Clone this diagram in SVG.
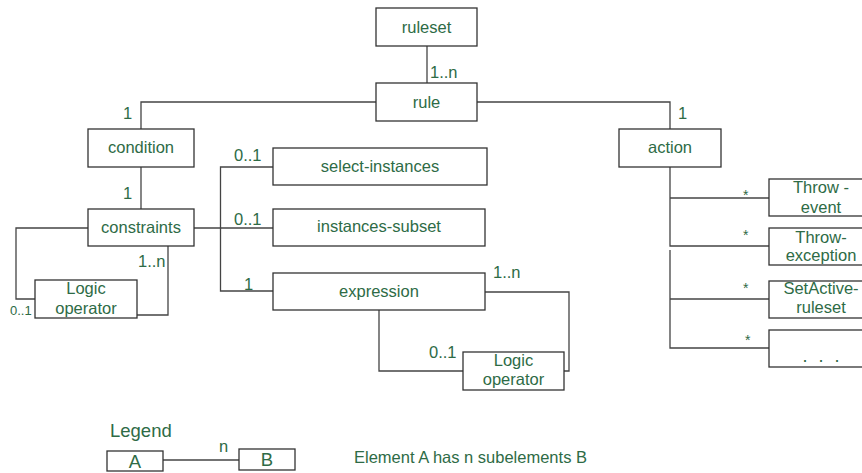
<svg xmlns="http://www.w3.org/2000/svg" width="862" height="473" viewBox="0 0 862 473">
<style>
  .box { fill: #ffffff; stroke: #333333; stroke-width: 1.3; }
  .ln { fill: none; stroke: #444444; stroke-width: 1.3; }
  text { font-family: "Liberation Sans", Arial, sans-serif; fill: #2e6b46; font-size: 16.5px; }
  .c { text-anchor: middle; }
  .sm { font-size: 13px; }
  .st { font-size: 14px; }
  .lg { font-size: 18.5px; }
</style>
<rect width="862" height="473" fill="#ffffff"/>
<g id="connectors">
  <path class="ln" d="M427,46 V83"/>
  <path class="ln" d="M376,102 H141 V129"/>
  <path class="ln" d="M477,102 H670 V129"/>
  <path class="ln" d="M141,167 V209"/>
  <path class="ln" d="M88,228 H16 V299 H35"/>
  <path class="ln" d="M168,246 V315 H137"/>
  <path class="ln" d="M194,228 H273"/>
  <path class="ln" d="M273,167 H220.5 V291 H273"/>
  <path class="ln" d="M485,292 H569 V371 H564"/>
  <path class="ln" d="M379,310 V371 H463"/>
  <path class="ln" d="M670,167 V246 H769"/>
  <path class="ln" d="M670,198 H769"/>
  <path class="ln" d="M670,250 V348 H769"/>
  <path class="ln" d="M670,299 H769"/>
  <path class="ln" d="M163,460 H239"/>
</g>
<g id="ruleset"><rect class="box" x="376" y="8" width="101" height="38"/><text class="c" x="426.5" y="32.5">ruleset</text></g>
<g id="rule"><rect class="box" x="376" y="83" width="101" height="38"/><text class="c" x="426.5" y="107.5">rule</text></g>
<g id="condition"><rect class="box" x="88" y="129" width="106" height="38"/><text class="c" x="141" y="153">condition</text></g>
<g id="action"><rect class="box" x="619" y="129" width="102" height="38"/><text class="c" x="670" y="153">action</text></g>
<g id="constraints"><rect class="box" x="88" y="209" width="106" height="37"/><text class="c" x="141" y="233">constraints</text></g>
<g id="logic-operator-1"><rect class="box" x="35" y="280" width="102" height="38"/><text class="c" x="86" y="294">Logic</text><text class="c" x="86" y="314">operator</text></g>
<g id="select-instances"><rect class="box" x="273" y="148" width="214" height="37"/><text class="c" x="380" y="172">select-instances</text></g>
<g id="instances-subset"><rect class="box" x="273" y="209" width="212" height="37"/><text class="c" x="379" y="232">instances-subset</text></g>
<g id="expression"><rect class="box" x="273" y="273" width="212" height="37"/><text class="c" x="379" y="297">expression</text></g>
<g id="logic-operator-2"><rect class="box" x="463" y="352" width="101" height="38"/><text class="c" x="513.5" y="366">Logic</text><text class="c" x="513.5" y="385">operator</text></g>
<g id="throw-event"><rect class="box" x="769" y="179" width="104" height="37"/><text class="c" x="821" y="193">Throw -</text><text class="c" x="821" y="213">event</text></g>
<g id="throw-exception"><rect class="box" x="769" y="228" width="104" height="37"/><text class="c" x="821" y="243">Throw-</text><text class="c" x="821" y="261">exception</text></g>
<g id="setactive-ruleset"><rect class="box" x="769" y="281" width="104" height="37"/><text class="c" x="821" y="294">SetActive-</text><text class="c" x="821" y="313">ruleset</text></g>
<g id="more"><rect class="box" x="769" y="330" width="104" height="37"/><text class="c" x="821" y="362" style="font-size:18px" word-spacing="6">. . .</text></g>
<g id="labels">
  <text x="430" y="78">1..n</text>
  <text x="123" y="119">1</text>
  <text x="678" y="119">1</text>
  <text x="123" y="199">1</text>
  <text x="138" y="267">1..n</text>
  <text class="sm" x="10" y="315">0..1</text>
  <text x="234" y="161">0..1</text>
  <text x="234" y="225">0..1</text>
  <text x="244" y="290">1</text>
  <text x="493" y="278">1..n</text>
  <text x="429" y="358">0..1</text>
  <text class="st" x="743" y="200">*</text>
  <text class="st" x="743" y="240">*</text>
  <text class="st" x="743" y="293">*</text>
  <text class="st" x="745" y="345">*</text>
</g>
<g id="legend">
  <text class="lg" x="110" y="437">Legend</text>
  <rect class="box" x="107" y="451" width="56" height="20"/>
  <text class="lg c" x="135" y="467.5">A</text>
  <rect class="box" x="239" y="449" width="56" height="21"/>
  <text class="lg c" x="267" y="466">B</text>
  <text x="219" y="452">n</text>
  <text x="354" y="463">Element A has n subelements B</text>
</g>
</svg>
